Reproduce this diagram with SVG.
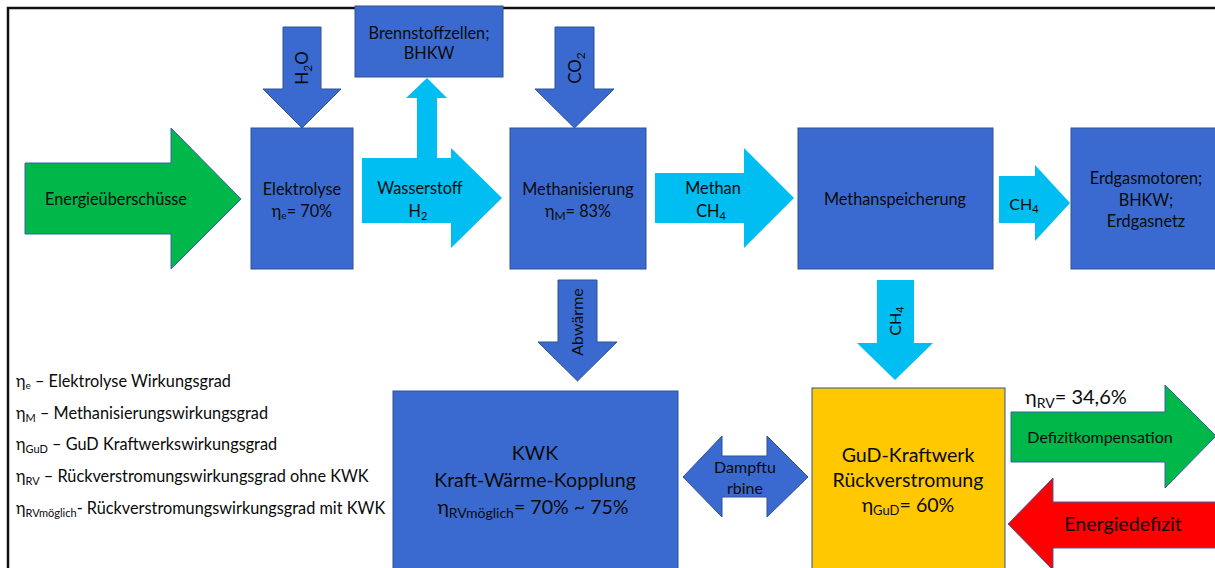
<svg xmlns="http://www.w3.org/2000/svg" width="1215" height="568" viewBox="0 0 1215 568">
<style>
text{font-family:Lato,"Open Sans","Liberation Sans",sans-serif;fill:#0a0a0a;}
.box{fill:#3A6ACF;stroke:#2F528F;stroke-width:1;}
.lb{fill:#00BDF2;stroke:none;}
.db{fill:#3A6ACF;stroke:#2F528F;stroke-width:1;}
.gr{fill:#00B84A;stroke:#3A5FA8;stroke-width:1;}
.rd{fill:#FF0000;stroke:#3A5FA8;stroke-width:1;}
.ye{fill:#FFC800;stroke:#2F528F;stroke-width:1;}
.t15{font-size:16.3px;text-anchor:middle;}
.t14{font-size:16px;text-anchor:middle;}
.t20{font-size:19.6px;text-anchor:middle;}
.lg{font-size:16.3px;}
</style>
<rect x="0" y="0" width="1215" height="568" fill="#fff"/>
<path d="M8,568 V8 H1215" fill="none" stroke="#111" stroke-width="2.5"/>

<g id="connectors">
  <g id="a-energie">
    <polygon class="gr" points="25,163 171,163 171,128 241,199 171,269 171,234 25,234"/>
    <text class="t15" x="116" y="205">Energieüberschüsse</text>
  </g>
  <g id="a-h2o">
    <polygon class="db" points="283,27 321,27 321,89 341,89 302,128 263,89 283,89"/>
    <text transform="translate(308,68) rotate(-90)" font-size="17" text-anchor="middle">H<tspan font-size="12" dy="4">2</tspan><tspan dy="-4">O</tspan></text>
  </g>
  <g id="a-wasserstoff">
    <polygon class="lb" points="362,158 417,158 417,98 406,98 427,78 447,98 437,98 437,158 451,158 451,148 502,198 451,248 451,223 362,223"/>
    <text class="t15" x="420" y="194">Wasserstoff</text>
    <text class="t15" x="418" y="217">H<tspan font-size="11" dy="3">2</tspan></text>
  </g>
  <g id="a-co2">
    <polygon class="db" points="555,27 594,27 594,89 614,89 574.5,128 535,89 555,89"/>
    <text transform="translate(581,68) rotate(-90)" font-size="17" text-anchor="middle">CO<tspan font-size="12" dy="4">2</tspan></text>
  </g>
  <g id="a-methan">
    <polygon class="lb" points="655,173 744,173 744,148 794,198 744,248 744,223 655,223"/>
    <text class="t15" x="713" y="194">Methan</text>
    <text class="t15" x="711" y="217">CH<tspan font-size="11" dy="3">4</tspan></text>
  </g>
  <g id="a-ch4-right">
    <polygon class="lb" points="999,176 1035,176 1035,165 1070,203 1035,241 1035,223 999,223"/>
    <text class="t14" x="1024" y="210">CH<tspan font-size="11" dy="3">4</tspan></text>
  </g>
  <g id="a-abwaerme">
    <polygon class="db" points="558,280 597,280 597,342 617,342 577.5,381 538,342 558,342"/>
    <text transform="translate(583,322) rotate(-90)" font-size="16" text-anchor="middle">Abwärme</text>
  </g>
  <g id="a-ch4-down">
    <polygon class="lb" points="877,280 914,280 914,343 933,343 895,380 857,343 877,343"/>
    <text transform="translate(901,321) rotate(-90)" font-size="16" text-anchor="middle">CH<tspan font-size="11" dy="3">4</tspan></text>
  </g>
  <g id="a-dampfturbine">
    <polygon class="db" points="683,477 722,436 722,456 767,456 767,436 808,477 767,517 767,497 722,497 722,517"/>
    <text class="t14" x="745" y="473">Dampftu</text>
    <text class="t14" x="745" y="494">rbine</text>
  </g>
  <g id="a-defizitkompensation">
    <polygon class="gr" points="1011,412 1165,412 1165,385 1216,436 1165,488 1165,462 1011,462"/>
    <text class="t14" x="1100" y="443">Defizitkompensation</text>
    <text font-size="20" x="1025" y="404">η<tspan font-size="14" dy="4">RV</tspan><tspan dy="-4">= 34,6%</tspan></text>
  </g>
  <g id="a-energiedefizit">
    <polygon class="rd" points="1216,502 1053,502 1053,478 1008,524 1053,570 1053,548 1216,548"/>
    <text class="t20" font-size="17.5" x="1123" y="531">Energiedefizit</text>
  </g>
</g>

<g id="n-elektrolyse">
  <rect class="box" x="251" y="128" width="102" height="141"/>
  <text class="t15" x="302" y="195">Elektrolyse</text>
  <text class="t15" x="302" y="217">η<tspan font-size="10" dy="2">e</tspan><tspan dy="-2">= 70%</tspan></text>
</g>
<g id="n-brennstoffzellen">
  <rect class="box" x="355" y="6" width="148" height="71"/>
  <text class="t15" x="429" y="39">Brennstoffzellen;</text>
  <text class="t15" x="429" y="59">BHKW</text>
</g>
<g id="n-methanisierung">
  <rect class="box" x="510" y="128" width="136" height="141"/>
  <text class="t15" x="578" y="195">Methanisierung</text>
  <text class="t15" x="578" y="217">η<tspan font-size="12" dy="3">M</tspan><tspan dy="-3">= 83%</tspan></text>
</g>
<g id="n-methanspeicherung">
  <rect class="box" x="798" y="128" width="195" height="141"/>
  <text class="t15" x="895" y="205">Methanspeicherung</text>
</g>
<g id="n-erdgas">
  <rect class="box" x="1071" y="128" width="150" height="141"/>
  <text class="t15" x="1146" y="184">Erdgasmotoren;</text>
  <text class="t15" x="1146" y="206">BHKW;</text>
  <text class="t15" x="1146" y="227">Erdgasnetz</text>
</g>
<g id="n-kwk">
  <rect class="box" x="393" y="391" width="285" height="180"/>
  <text class="t20" x="535" y="460">KWK</text>
  <text class="t20" x="535" y="487">Kraft-Wärme-Kopplung</text>
  <text class="t20" x="533" y="514">η<tspan font-size="14" dy="4">RVmöglich</tspan><tspan dy="-4">= 70% ~ 75%</tspan></text>
</g>
<g id="n-gud">
  <rect class="ye" x="812" y="388" width="193" height="183"/>
  <text class="t20" font-size="19.5" x="908" y="462">GuD-Kraftwerk</text>
  <text class="t20" font-size="19.5" x="908" y="487">Rückverstromung</text>
  <text class="t20" font-size="19.5" x="908" y="512">η<tspan font-size="13" dy="3">GuD</tspan><tspan dy="-3">= 60%</tspan></text>
</g>

<g id="legend">
  <text class="lg" x="16" y="387">η<tspan font-size="10" dy="2">e</tspan><tspan dy="-2"> – Elektrolyse Wirkungsgrad</tspan></text>
  <text class="lg" x="16" y="419">η<tspan font-size="11" dy="3">M</tspan><tspan dy="-3"> – Methanisierungswirkungsgrad</tspan></text>
  <text class="lg" x="16" y="450">η<tspan font-size="11" dy="3">GuD</tspan><tspan dy="-3"> – GuD Kraftwerkswirkungsgrad</tspan></text>
  <text class="lg" x="16" y="482">η<tspan font-size="11" dy="3">RV</tspan><tspan dy="-3"> – Rückverstromungswirkungsgrad ohne KWK</tspan></text>
  <text class="lg" x="16" y="514">η<tspan font-size="11" dy="3">RVmöglich</tspan><tspan dy="-3">- Rückverstromungswirkungsgrad mit KWK</tspan></text>
</g>
</svg>
